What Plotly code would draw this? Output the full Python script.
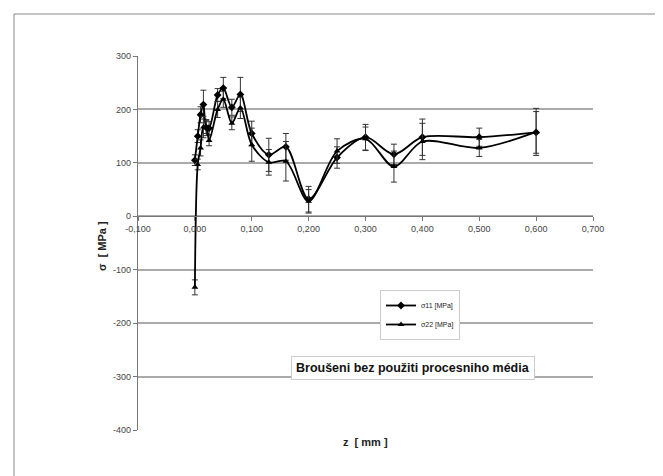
import plotly.graph_objects as go

# ---- data ----
z_mm = [0.000, 0.005, 0.010, 0.015, 0.020, 0.025, 0.040, 0.050, 0.065, 0.080,
        0.100, 0.130, 0.160, 0.200, 0.250, 0.300, 0.350, 0.400, 0.500, 0.600]
sigma11 = [105, 150, 190, 209, 166, 165, 227, 240, 204, 228,
           155, 115, 130, 32, 110, 148, 116, 148, 148, 157]
sigma11_err = [10, 12, 15, 27, 15, 12, 12, 20, 15, 32,
               23, 31, 25, 24, 20, 24, 19, 34, 17, 39]
sigma22 = [-133, 97, 128, 167, 167, 142, 200, 219, 174, 203,
           134, 101, 103, 28, 122, 145, 93, 140, 128, 158]
sigma22_err = [14, 10, 15, 20, 12, 10, 15, 15, 12, 20,
               31, 24, 37, 22, 23, 22, 29, 34, 16, 44]

x_tick_vals = [-0.1, 0.0, 0.1, 0.2, 0.3, 0.4, 0.5, 0.6, 0.7]
x_tick_labels = ["-0,100", "0,000", "0,100", "0,200", "0,300", "0,400",
                 "0,500", "0,600", "0,700"]
y_tick_vals = [300, 200, 100, 0, -100, -200, -300, -400]
y_tick_labels = ["300", "200", "100", "0", "-100", "-200", "-300", "-400"]

series_names = ["σ11 [MPa]", "σ22 [MPa]"]
x_title = "z  [ mm ]"
y_title = "σ  [ MPa ]"
note_text = "Broušeni bez použiti procesniho média"

# ---- layout geometry (pixels) ----
W, H = 663, 476
L, R, T, B = 130, 585, 48, 422
pw, ph = R - L, B - T


def px(xp):
    return (xp - L) / pw


def py(yp):
    return (B - yp) / ph


fig = go.Figure()
fig.add_trace(go.Scatter(
    x=z_mm, y=sigma11, name=series_names[0], mode="lines+markers",
    line=dict(color="black", width=1.8, shape="spline", smoothing=0.9),
    marker=dict(symbol="diamond", size=6, color="black"),
    error_y=dict(type="data", array=sigma11_err, visible=True,
                 color="#333333", thickness=1, width=3),
))
fig.add_trace(go.Scatter(
    x=z_mm, y=sigma22, name=series_names[1], mode="lines+markers",
    line=dict(color="black", width=1.8, shape="spline", smoothing=0.9),
    marker=dict(symbol="triangle-up", size=6, color="black"),
    error_y=dict(type="data", array=sigma22_err, visible=True,
                 color="#333333", thickness=1, width=3),
))

font_family = "Liberation Sans, Arial, sans-serif"

fig.update_layout(
    width=W, height=H,
    margin=dict(l=L, r=W - R, t=T, b=H - B, pad=0),
    paper_bgcolor="white", plot_bgcolor="white",
    font=dict(family=font_family, size=9, color="#444444"),
    showlegend=True,
    legend=dict(
        x=px(372), y=py(282), xanchor="left", yanchor="top",
        bgcolor="white", bordercolor="#cccccc", borderwidth=1,
        font=dict(size=7, color="#222222"),
        itemwidth=30, tracegroupgap=2,
    ),
    xaxis=dict(
        range=[-0.1, 0.7], tickvals=x_tick_vals, ticktext=x_tick_labels,
        showgrid=False, zeroline=False,
        showline=True, linecolor="#777777", linewidth=1.2,
        ticks="outside", ticklen=4, tickcolor="#777777",
        anchor="free", position=400 / 700,
        tickfont=dict(size=9, color="#444444"),
    ),
    yaxis=dict(
        range=[-400, 300], tickvals=y_tick_vals, ticktext=y_tick_labels,
        showgrid=True, gridcolor="#aaaaaa", gridwidth=1.5,
        zeroline=False,
        showline=True, linecolor="#777777", linewidth=1.2,
        ticks="outside", ticklen=4, tickcolor="#777777",
        tickfont=dict(size=9, color="#444444"),
    ),
    shapes=[dict(
        type="rect", xref="paper", yref="paper",
        x0=px(6), x1=px(657), y0=py(470), y1=py(6),
        line=dict(color="#888888", width=1), fillcolor="rgba(0,0,0,0)",
        layer="below",
    )],
    annotations=[
        dict(text="<b>" + x_title + "</b>", xref="paper", yref="paper",
             x=px(357), y=py(442), showarrow=False,
             font=dict(size=11, color="#222222")),
        dict(text="<b>" + y_title + "</b>", xref="paper", yref="paper",
             x=px(86), y=py(238), showarrow=False, textangle=-90,
             font=dict(size=11, color="#222222")),
        dict(text="<b>" + note_text + "</b>", xref="paper", yref="paper",
             x=px(405), y=py(372), showarrow=False,
             font=dict(size=12.5, color="#111111"),
             bgcolor="white", bordercolor="#cccccc", borderwidth=1,
             borderpad=4),
    ],
)

fig.write_html("out.html")
